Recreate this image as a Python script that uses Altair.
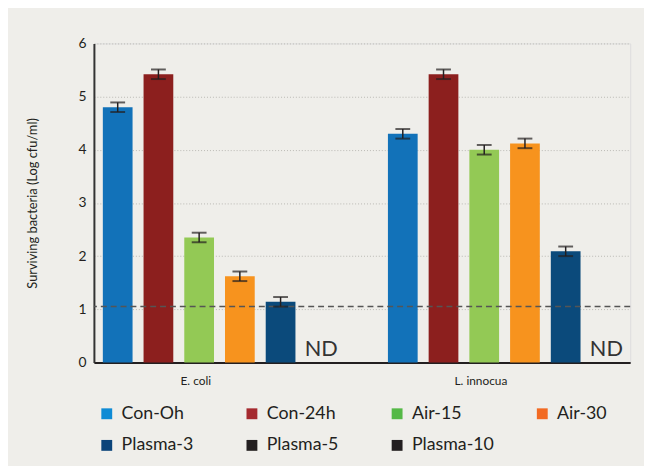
import altair as alt
import pandas as pd

groups = ["E. coli", "L. innocua"]
series = ["Con-Oh", "Con-24h", "Air-15", "Air-30", "Plasma-3", "Plasma-5", "Plasma-10"]
ecoli_vals = [4.80, 5.42, 2.35, 1.62, 1.14, None, None]
linn_vals = [4.30, 5.42, 4.00, 4.12, 2.09, None, None]
ecoli_err = [0.09, 0.09, 0.09, 0.09, 0.09, None, None]
linn_err = [0.09, 0.09, 0.09, 0.09, 0.09, None, None]
nd_series = "Plasma-5"
nd_label = "ND"
detection_limit = 1.05

bar_colors = ["#1272b9", "#8c1f1e", "#93c955", "#f7931e", "#0b4a7b", "#231f20", "#231f20"]
legend_colors = ["#0f8bd5", "#a52a2f", "#55b947", "#f26a22", "#0b447a", "#231f20", "#231f20"]

rows = []
for g, vals, errs in [(groups[0], ecoli_vals, ecoli_err), (groups[1], linn_vals, linn_err)]:
    for s, v, e in zip(series, vals, errs):
        if v is not None:
            rows.append({"group": g, "series": s, "value": v, "lo": v - e, "hi": v + e})
df = pd.DataFrame(rows)
nd_df = pd.DataFrame({"group": groups, "series": [nd_series] * 2, "value": [0, 0], "label": [nd_label] * 2})
leg_df = pd.DataFrame({"series": series})
lim_df = pd.DataFrame({"y": [detection_limit]})

FONT = "Lato"
offset_domain = series[:6]

x_enc = alt.X("group:N", sort=groups, title=None,
              scale=alt.Scale(paddingInner=0.143, paddingOuter=0.012),
              axis=alt.Axis(domainColor="#231f20", domainWidth=2, ticks=False,
                            labelOffset=-24, labelPadding=13, labelFontSize=12,
                            labelColor="#231f20", labelAngle=0, grid=False))
xo_enc = alt.XOffset("series:N", sort=offset_domain,
                     scale=alt.Scale(domain=offset_domain, paddingInner=0.27, paddingOuter=0.135))
y_scale = alt.Scale(domain=[0, 6], nice=False)

bars = alt.Chart(df).mark_bar().encode(
    x=x_enc,
    xOffset=xo_enc,
    y=alt.Y("value:Q", scale=y_scale, title="Surviving bacteria (Log cfu/ml)",
            axis=alt.Axis(values=[i * 0.5 for i in range(13)],
                          labelExpr="datum.value % 1 == 0 ? format(datum.value, 'd') : ''",
                          ticks=False, labelPadding=8, labelFontSize=14, labelColor="#231f20",
                          domainColor="#333333", domainWidth=2,
                          gridColor="#b9b8b3", gridDash=[1, 2], gridWidth=1,
                          titleFontSize=13, titleFontWeight="normal", titleColor="#231f20",
                          titlePadding=39)),
    color=alt.Color("series:N", scale=alt.Scale(domain=series, range=bar_colors), legend=None),
)

rule = alt.Chart(df).mark_rule(color="#231f20", strokeWidth=1.5).encode(
    x=alt.X("group:N", sort=groups), xOffset=xo_enc, y="lo:Q", y2="hi:Q")
tick_lo = alt.Chart(df).mark_tick(color="#231f20", thickness=2, size=15).encode(
    x=alt.X("group:N", sort=groups), xOffset=xo_enc, y="lo:Q")
tick_hi = alt.Chart(df).mark_tick(color="#231f20", thickness=2, size=15).encode(
    x=alt.X("group:N", sort=groups), xOffset=xo_enc, y="hi:Q")

limit = alt.Chart(lim_df).mark_rule(color="#555555", strokeWidth=1.5, strokeDash=[6, 4]).encode(
    y="y:Q")

nd = alt.Chart(nd_df).mark_text(fontSize=22, color="#333333", baseline="bottom", dy=-1, font=FONT).encode(
    x=alt.X("group:N", sort=groups), xOffset=xo_enc, y="value:Q", text="label:N")

legend_layer = alt.Chart(leg_df).mark_square(opacity=0).encode(
    color=alt.Color("series:N", sort=series,
                    scale=alt.Scale(domain=series, range=legend_colors),
                    legend=alt.Legend(title=None, orient="none", legendX=4, legendY=366,
                                      direction="horizontal",
                                      columns=4, gridAlign="all", columnPadding=39, rowPadding=14,
                                      symbolType="square", symbolSize=121, symbolOpacity=1,
                                      symbolStrokeWidth=0, labelFontSize=18, labelColor="#231f20",
                                      labelOffset=6, labelFont=FONT)))

chart = alt.layer(bars, limit, rule, tick_lo, tick_hi, nd, legend_layer).resolve_scale(
    color="independent"
).properties(
    width=543, height=323,
    autosize=alt.AutoSizeParams(type="none"),
    padding={"left": 87, "top": 33, "right": 14, "bottom": 102},
    background="#efeeea",
).configure_view(stroke=None).configure(font=FONT)

chart.save("out.html", embed_options={"renderer": "svg", "actions": False})
